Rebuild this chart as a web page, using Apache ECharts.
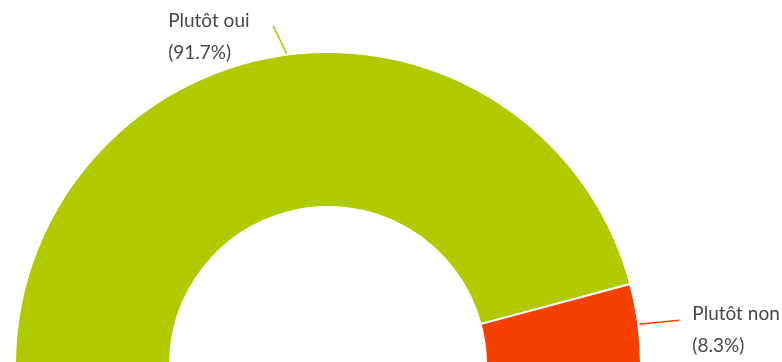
<!DOCTYPE html>
<html>
<head>
<meta charset="utf-8">
<script src="https://cdn.jsdelivr.net/npm/echarts@6/dist/echarts.min.js"></script>
<style>html,body{margin:0;padding:0;background:#fff}#c{width:782px;height:362px}</style>
</head>
<body>
<div id="c"></div>
<script>
const categories = ['Plutôt oui', 'Plutôt non'];
const values = [11, 1];
const colors = ['#b1ca00', '#f44100'];

const chart = echarts.init(document.getElementById('c'), null, {renderer: 'canvas'});
chart.setOption({
  animation: false,
  series: [{
    type: 'pie',
    center: [328, 365],
    radius: [158, 313],
    startAngle: 180,
    endAngle: 0,
    clockwise: true,
    percentPrecision: 1,
    itemStyle: {borderColor: '#fff', borderWidth: 2},
    label: {
      formatter: '{b}\n({d}%)',
      fontFamily: 'Lato',
      fontSize: 19,
      lineHeight: 32,
      color: '#474747'
    },
    labelLine: {show: true, length: 35, length2: 0, lineStyle: {width: 1.5}},
    labelLayout: function (p) {
      const s = p.labelLinePoints[0];
      if (p.dataIndex === 0) {
        const e = [s[0] - 14, s[1] - 29];
        return {x: e[0] - 105, y: e[1] - 21, align: 'left', verticalAlign: 'top', labelLinePoints: [s, e, e]};
      }
      const e = [s[0] + 41, s[1] - 4];
      return {x: e[0] + 13, y: e[1] - 22, align: 'left', verticalAlign: 'top', labelLinePoints: [s, e, e]};
    },
    data: categories.map((n, i) => ({name: n, value: values[i], itemStyle: {color: colors[i]}}))
  }]
});
</script>
</body>
</html>
